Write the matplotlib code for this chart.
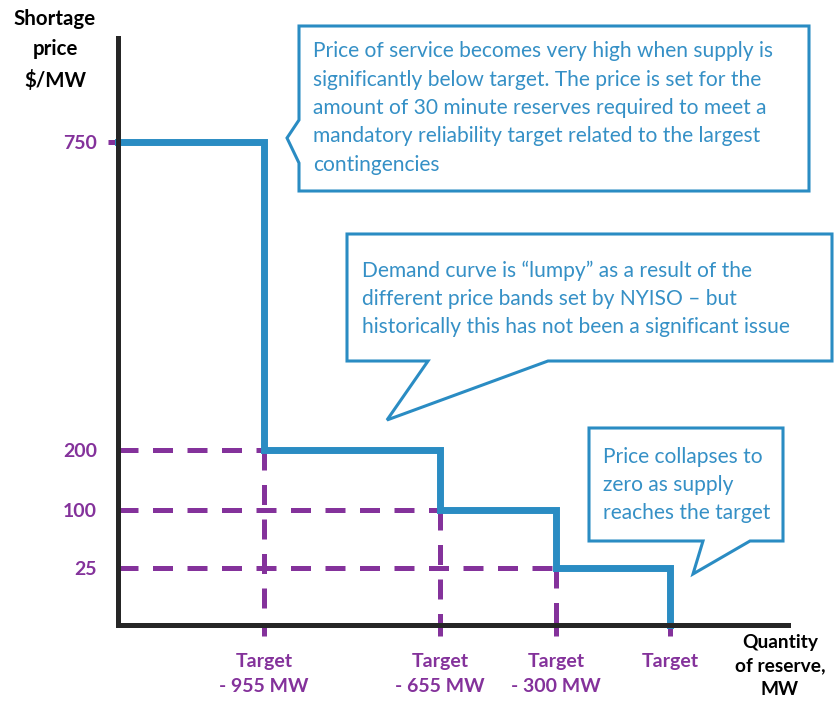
import numpy as np
import matplotlib.pyplot as plt
from matplotlib.patches import Polygon

plt.rcParams['font.family'] = ['Lato', 'DejaVu Sans']

# --------------------------------------
# Data (schematic NYISO 30-min reserve demand curve)
target_labels = ['Target\n- 955 MW', 'Target\n- 655 MW', 'Target\n- 300 MW', 'Target']
target_offsets = [-955, -655, -300, 0]   # MW relative to target
price_bands = [750, 200, 100, 25]        # $/MW
price_labels = ['750', '200', '100', '25']
origin_q = -1250                          # quantity at the y-axis
max_q = 350
max_price = 930

# schematic (non-linear) axis spacing, pixels from the origin
x_anchor = [origin_q, -955, -655, -300, 0, max_q]
x_pix = [0, 146, 322, 438, 552, 670]
y_anchor = [0, 25, 100, 200, 750, max_price]
y_pix = [0, 57, 115, 175, 483, 587]

blue = '#2A8CC3'
purple = '#84329B'
dark = '#262626'

fig = plt.figure(figsize=(8.34, 7.07), dpi=100)
ax = fig.add_axes([118 / 834, (707 - 625) / 707, (788 - 118) / 834, (625 - 38) / 707])

ax.set_xscale('function', functions=(lambda v: np.interp(v, x_anchor, x_pix),
                                     lambda p: np.interp(p, x_pix, x_anchor)))
ax.set_yscale('function', functions=(lambda v: np.interp(v, y_anchor, y_pix),
                                     lambda p: np.interp(p, y_pix, y_anchor)))
ax.set_xlim(origin_q, max_q)
ax.set_ylim(0, max_price)

# dashed guide lines
for q, p in zip(target_offsets[:3], price_bands[1:]):
    ax.plot([origin_q, q], [p, p], color=purple, lw=3.6, dashes=(4.0, 2.9), zorder=1)
    ax.plot([q, q], [p, 0], color=purple, lw=3.6, dashes=(4.0, 2.9), zorder=1)

# the step demand curve
ax.step([origin_q] + target_offsets, price_bands + [0], where='post',
        color=blue, lw=5, solid_joinstyle='miter', zorder=2, clip_on=False)

for s in ['top', 'right']:
    ax.spines[s].set_visible(False)
for s in ['left', 'bottom']:
    ax.spines[s].set_color(dark)
    ax.spines[s].set_linewidth(3.6)
    ax.spines[s].set_zorder(3)

ax.minorticks_off()
ax.set_xticks(target_offsets, target_labels)
ax.set_yticks(price_bands, price_labels)
ax.tick_params(axis='x', direction='out', length=8, width=3.6, color=purple,
               labelcolor=purple, labelsize=14, pad=12)
ax.tick_params(axis='y', direction='inout', length=13.7, width=3.6, color=purple,
               labelcolor=purple, labelsize=14, pad=8.3)
for lbl in ax.get_xticklabels() + ax.get_yticklabels():
    lbl.set_fontweight('bold')
    lbl.set_linespacing(1.62)
for t in ax.yaxis.get_major_ticks()[1:]:
    t.tick1line.set_visible(False)
for t in ax.yaxis.get_major_ticks():
    t.tick1line.set_zorder(4)

# overlay in pixel units for the callouts and axis titles
ov = fig.add_axes([0, 0, 1, 1], zorder=5)
ov.set_xlim(0, 834)
ov.set_ylim(707, 0)
ov.axis('off')
ov.patch.set_alpha(0)

ov.text(55, 9, 'Shortage\nprice\n$/MW', ha='center', va='top', fontsize=14.8,
        fontweight='bold', color='black', linespacing=1.65)
ov.text(780, 634, 'Quantity\nof reserve,\nMW', ha='center', va='top', fontsize=13.8,
        fontweight='bold', color='black', linespacing=1.48)

boxes = [
    [(299, 26), (809, 26), (809, 191), (299, 191), (299, 163), (287, 138), (299, 120)],
    [(347, 234), (832, 234), (832, 361), (548, 361), (387, 420), (428, 361), (347, 361)],
    [(589, 428), (783, 428), (783, 541), (750, 541), (693, 574), (703, 541), (589, 541)],
]
for pts in boxes:
    ov.add_patch(Polygon(pts, closed=True, fc='white', ec=blue, lw=2.2, joinstyle='miter'))

txt_kw = dict(ha='left', va='center', fontsize=15.1, color='#3590C6', linespacing=1.52)
ov.text(313, 108, 'Price of service becomes very high when supply is\n'
        'significantly below target. The price is set for the\n'
        'amount of 30 minute reserves required to meet a\n'
        'mandatory reliability target related to the largest\n'
        'contingencies', **txt_kw)
ov.text(362, 299, 'Demand curve is \u201clumpy\u201d as a result of the\n'
        'different price bands set by NYISO \u2013 but\n'
        'historically this has not been a significant issue', **txt_kw)
ov.text(603, 485, 'Price collapses to\nzero as supply\nreaches the target', **txt_kw)

fig.savefig('out.png', dpi=100)
